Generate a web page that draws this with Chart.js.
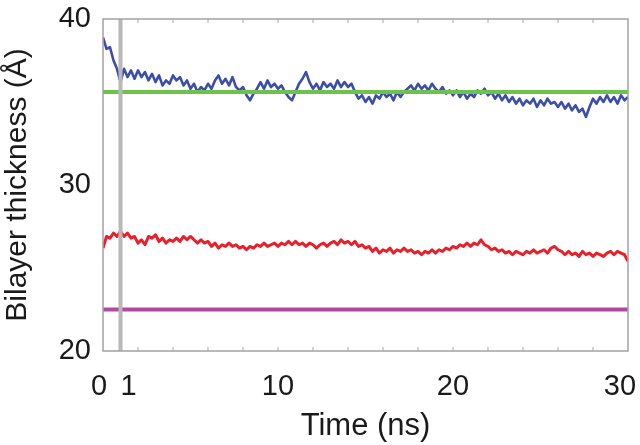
<!DOCTYPE html>
<html>
<head>
<meta charset="utf-8">
<script src="https://cdn.jsdelivr.net/npm/chart.js@4/dist/chart.umd.min.js"></script>
<style>
  html, body { margin: 0; padding: 0; background: #fff; }
</style>
</head>
<body>
<canvas id="thicknessChart" width="640" height="445"></canvas>
<script>
// one frame every 0.2 ns, 0 -> 30 ns
const frameInterval = 0.2;

// upper trace (blue)
const blueThickness = [
  38.9, 38.2, 38.3, 37.5, 37.0,
  36.2, 37.0, 36.5, 36.9, 36.4,
  36.9, 36.5, 36.8, 36.3, 36.7,
  36.2, 36.6, 36.0, 36.3, 36.1,
  36.6, 36.3, 36.5, 36.0, 36.3,
  35.8, 36.1, 35.6, 35.9, 35.7,
  36.1, 35.8, 36.3, 36.6, 36.1,
  36.4, 36.0, 36.5, 35.9, 35.7,
  35.9, 35.4, 35.1, 35.5, 35.8,
  36.2, 35.8, 36.3, 35.9, 36.1,
  35.8, 36.0, 35.6, 35.3, 35.1,
  35.6, 36.1, 36.4, 36.8, 36.2,
  35.8, 36.1, 35.7, 36.2, 35.9,
  36.1, 35.8, 36.3, 35.9, 36.2,
  35.9, 36.1, 35.6, 35.2, 35.4,
  35.0, 35.3, 34.9, 35.4, 35.2,
  35.6, 35.3, 35.5, 35.1, 35.6,
  35.3, 35.6, 35.8, 36.0, 35.7,
  36.1, 35.8, 36.0, 35.7, 36.1,
  35.8, 35.6, 35.9, 35.5, 35.7,
  35.4, 35.7, 35.3, 35.6, 35.2,
  35.5, 35.3, 35.7, 35.5, 35.8,
  35.4, 35.6, 35.2, 35.5, 35.1,
  35.4, 35.0, 35.3, 34.9, 35.2,
  34.8, 35.1, 34.9, 35.2, 34.7,
  35.1, 34.8, 35.2, 34.9, 35.0,
  34.7, 35.0, 34.6, 34.9, 34.5,
  34.8, 34.4, 34.6, 34.1, 34.7,
  35.2, 34.9, 35.3, 35.0, 35.4,
  35.0, 35.3, 34.9, 35.4, 35.1,
  35.3
];

// lower trace (red)
const redThickness = [
  26.2, 26.9, 26.8, 27.1, 26.9,
  27.2, 26.9, 27.1, 26.8, 26.9,
  26.5, 26.7, 26.4, 26.9, 26.8,
  27.0, 26.6, 26.8, 26.5, 26.7,
  26.6, 26.8, 26.6, 26.9, 26.7,
  26.9, 26.7, 26.5, 26.7, 26.5,
  26.6, 26.3, 26.5, 26.2, 26.4,
  26.3, 26.5, 26.3, 26.4, 26.2,
  26.3, 26.1, 26.3, 26.2, 26.4,
  26.3, 26.5, 26.3, 26.4, 26.5,
  26.3, 26.5, 26.4, 26.6, 26.4,
  26.6, 26.4, 26.5, 26.3, 26.5,
  26.4, 26.2, 26.4, 26.5, 26.3,
  26.5, 26.6, 26.4, 26.7, 26.5,
  26.6, 26.4, 26.6, 26.3, 26.4,
  26.2, 26.3, 26.0, 26.2, 25.9,
  26.1, 26.0, 26.2, 25.9, 26.1,
  26.0, 26.2, 26.0, 26.1, 25.9,
  26.0, 25.8, 26.0, 25.9, 26.1,
  25.9, 26.1, 26.0, 26.2, 26.1,
  26.3, 26.2, 26.4, 26.3, 26.5,
  26.3, 26.5, 26.4, 26.7, 26.4,
  26.3, 26.1, 26.2, 26.0, 26.1,
  25.9, 26.0, 25.8, 26.0, 25.9,
  25.8, 26.0, 25.9, 26.1, 25.9,
  26.0, 26.1, 25.9, 26.2, 26.3,
  26.1, 26.0, 25.8, 26.0, 25.8,
  25.9, 25.7, 26.0, 25.8, 25.9,
  25.7, 25.9, 25.8, 25.7, 25.9,
  26.0, 25.8, 26.0, 25.9, 25.8,
  25.4
];

// reference levels
const greenLevel = 35.6;
const magentaLevel = 22.5;
const markerTime = 1;   // grey vertical line

// axes
const timeRange = [0, 30];
const thicknessRange = [20, 40];
const xTickValues = [0, 1, 10, 20, 30];
const xTickText = ['0 ', '  1', '10', '20', '30  '];
const yTickValues = [20, 30, 40];
const xMinorTicks = [2, 4, 6, 8, 10, 12, 14, 16, 18, 20, 22, 24, 26, 28];

const toPoints = arr => arr.map((v, i) => ({ x: i * frameInterval, y: v }));

const frameAndTicks = {
  id: 'frameAndTicks',
  afterDatasetsDraw(chart) {
    const { ctx, chartArea: a, scales } = chart;
    ctx.save();
    ctx.strokeStyle = '#a2a2a2';
    ctx.lineWidth = 1.5;
    ctx.strokeRect(a.left, a.top, a.right - a.left, a.bottom - a.top);
    ctx.lineWidth = 1;
    ctx.strokeStyle = '#a8a8a8';
    xMinorTicks.forEach(t => {
      const px = scales.x.getPixelForValue(t);
      ctx.beginPath();
      ctx.moveTo(px, a.bottom); ctx.lineTo(px, a.bottom - 4);
      ctx.moveTo(px, a.top); ctx.lineTo(px, a.top + 4);
      ctx.stroke();
    });
    ctx.restore();
  }
};

const font = 'Liberation Sans, Arial';

new Chart(document.getElementById('thicknessChart'), {
  type: 'line',
  data: {
    datasets: [
      {
        data: [{ x: markerTime, y: thicknessRange[0] }, { x: markerTime, y: thicknessRange[1] }],
        borderColor: '#b8b8b8', borderWidth: 4, order: 0
      },
      {
        data: [{ x: timeRange[0], y: greenLevel }, { x: timeRange[1], y: greenLevel }],
        borderColor: '#6cc24a', borderWidth: 4, order: 1
      },
      {
        data: [{ x: timeRange[0], y: magentaLevel }, { x: timeRange[1], y: magentaLevel }],
        borderColor: '#b04a9c', borderWidth: 4, order: 1
      },
      {
        data: toPoints(blueThickness),
        borderColor: '#3b4fa8', borderWidth: 2.6, order: 2
      },
      {
        data: toPoints(redThickness),
        borderColor: '#e8202a', borderWidth: 3, order: 2
      }
    ]
  },
  options: {
    responsive: false,
    animation: false,
    layout: { padding: { top: 19, right: 12, left: 0, bottom: 0 } },
    elements: { point: { radius: 0 }, line: { tension: 0, borderJoinStyle: 'round' } },
    scales: {
      x: {
        type: 'linear',
        min: timeRange[0], max: timeRange[1],
        afterBuildTicks: s => { s.ticks = xTickValues.map(v => ({ value: v })); },
        afterFit: s => { s.height = 94; s.paddingLeft = 0; s.paddingRight = 0; },
        grid: { display: false, drawTicks: false },
        border: { display: false },
        ticks: {
          autoSkip: false, maxRotation: 0, padding: 19,
          color: '#1a1a1a',
          font: { family: font, size: 29 },
          callback: (v, i) => xTickText[i]
        },
        title: {
          display: true, text: 'Time (ns)', color: '#1a1a1a',
          padding: { top: 0, bottom: 0 },
          font: { family: font, size: 31 }
        }
      },
      y: {
        min: thicknessRange[0], max: thicknessRange[1],
        afterBuildTicks: s => { s.ticks = yTickValues.map(v => ({ value: v })); },
        afterFit: s => { s.width = 103; s.paddingTop = 0; s.paddingBottom = 0; },
        grid: { display: false, drawTicks: false },
        border: { display: false },
        ticks: {
          padding: 12,
          color: '#1a1a1a',
          font: { family: font, size: 29 }
        },
        title: {
          display: true, text: 'Bilayer thickness (Å)', color: '#1a1a1a',
          padding: { top: 0, bottom: 4 },
          font: { family: font, size: 30 }
        }
      }
    },
    plugins: {
      legend: { display: false },
      tooltip: { enabled: false }
    }
  },
  plugins: [frameAndTicks]
});
</script>
</body>
</html>
